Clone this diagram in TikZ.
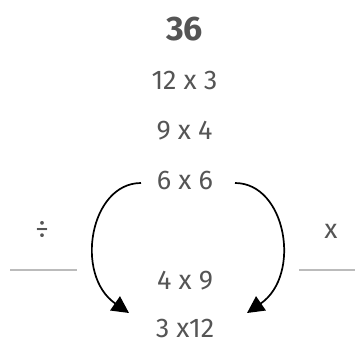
\documentclass[tikz,border=0pt]{standalone}
\usepackage{fontspec}
\setmainfont{Fira Sans}
\usetikzlibrary{arrows.meta}
\definecolor{txt}{HTML}{555555}
\definecolor{rule}{HTML}{BBBBBB}
\begin{document}
\begin{tikzpicture}[x=1pt,y=-1pt,
  lbl/.style={text=txt,font=\fontsize{27}{30}\selectfont,anchor=base,inner sep=0pt,text depth=0pt},
  head/.style={text=txt,font=\fontsize{34}{38}\selectfont\bfseries,anchor=base,inner sep=0pt},
  arc/.style={line width=1.7pt,black,-{Triangle[length=17pt,width=17pt]}},
  rl/.style={rule,line width=1.5pt}]
\useasboundingbox (0,0) rectangle (355,340);
\node[head] (n36) at (184.5,40) {36};
\node[lbl] (n123) at (184.5,89) {12 x 3};
\node[lbl] (n94) at (184.5,139) {9 x 4};
\node[lbl] (n66) at (185,189) {6 x 6};
\node[lbl] (n49) at (185,289) {4 x 9};
\node[lbl] (n312) at (185,337) {3 x12};
\node[lbl] (div) at (42,238) {÷};
\node[lbl] (mul) at (331,238) {x};
\coordinate (l1) at (10,270);
\coordinate (l2) at (77,270);
\coordinate (r1) at (299,270);
\coordinate (r2) at (355,270);
\draw[rl] (l1) -- (l2);
\draw[rl] (r1) -- (r2);
\coordinate (as) at (141,183);
\coordinate (ae) at (129,313);
\coordinate (bs) at (235,183);
\coordinate (be) at (247,313);
\draw[arc] (as) .. controls (90,183) and (74,275) .. (ae);
\draw[arc] (bs) .. controls (286,183) and (302,275) .. (be);
\end{tikzpicture}
\end{document}
